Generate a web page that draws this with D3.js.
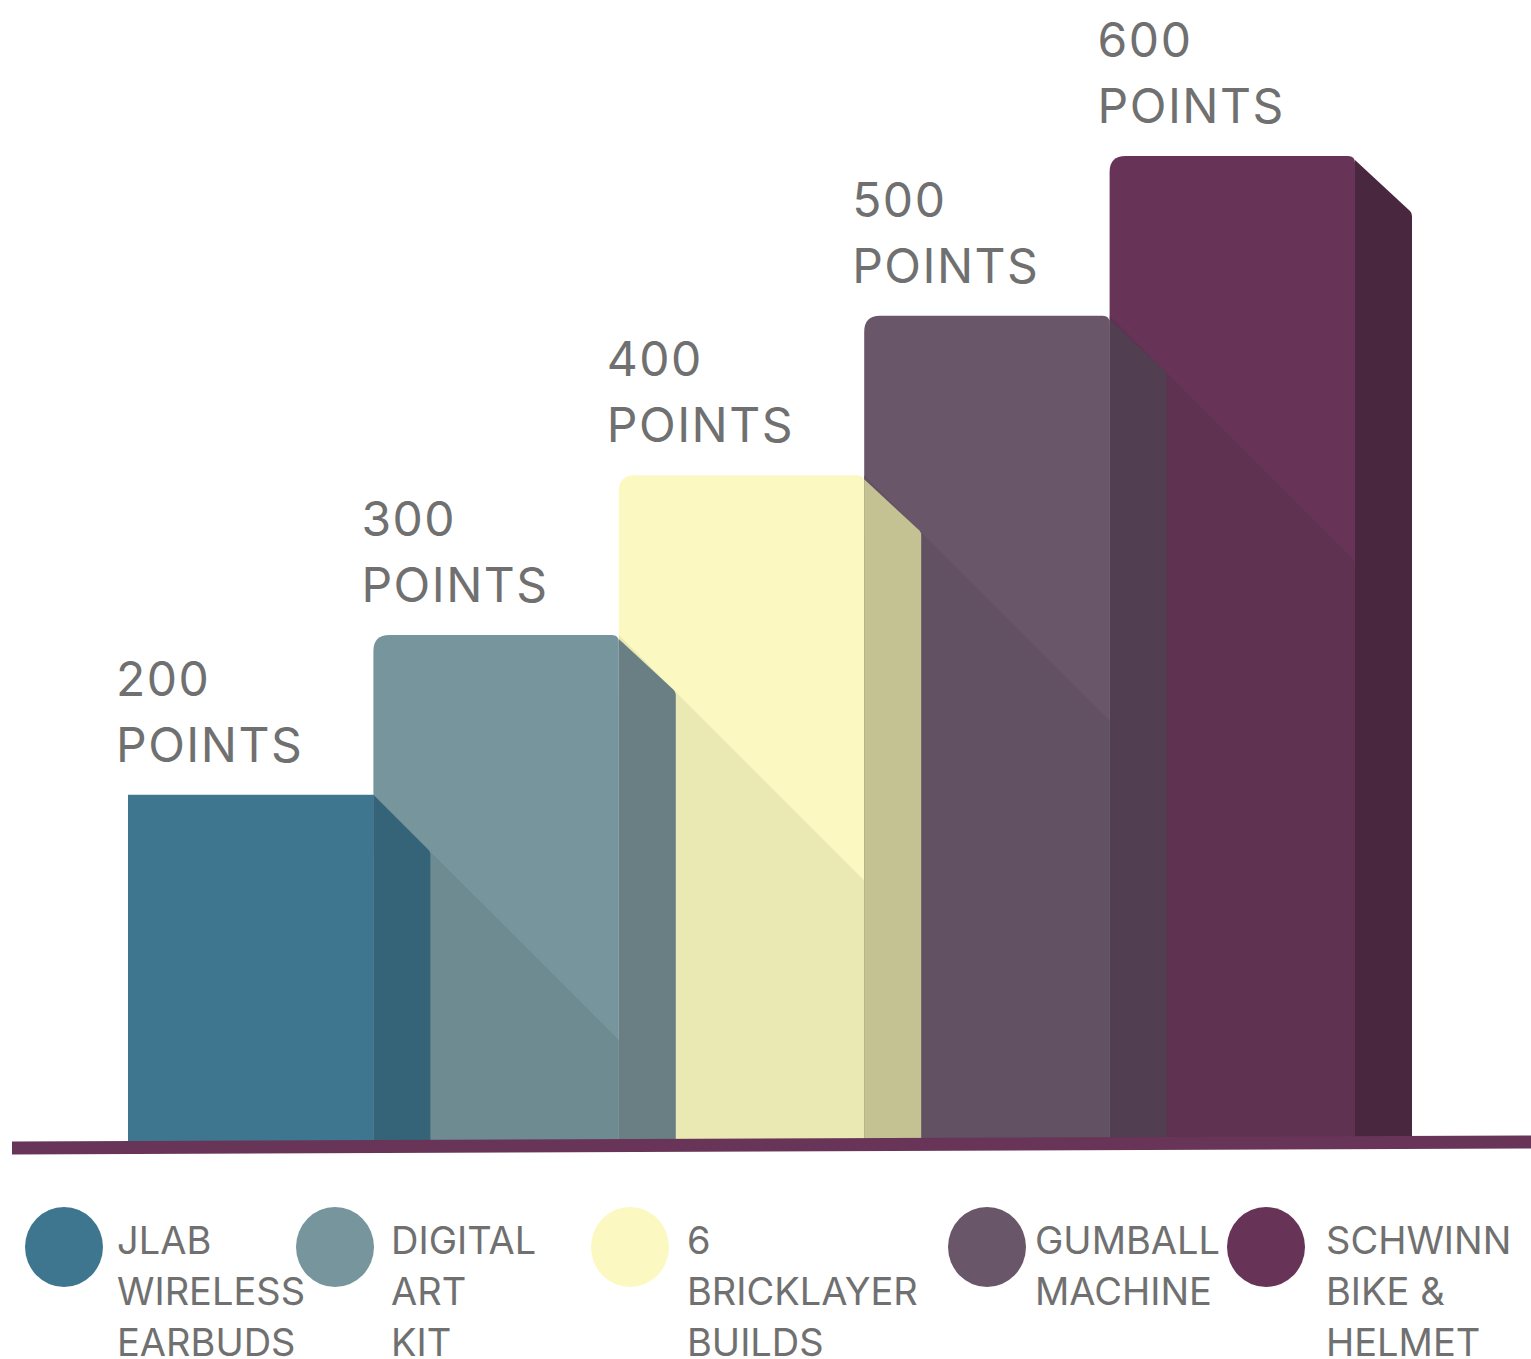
<!DOCTYPE html>
<html>
<head>
<meta charset="utf-8">
<script src="https://cdn.jsdelivr.net/npm/d3@7"></script>
<style>
  html, body { margin: 0; padding: 0; background: #fff; }
  svg { display: block; }
  .lbl { font-family: Inter, "Noto Sans", sans-serif; fill: #707070; }
</style>
</head>
<body>
<svg id="chart" width="1531" height="1359"></svg>
<script>
// data
var categories = ["JLAB WIRELESS EARBUDS", "DIGITAL ART KIT", "6 BRICKLAYER BUILDS", "GUMBALL MACHINE", "SCHWINN BIKE & HELMET"];
var legendLines = [["JLAB", "WIRELESS", "EARBUDS"], ["DIGITAL", "ART", "KIT"], ["6", "BRICKLAYER", "BUILDS"], ["GUMBALL", "MACHINE"], ["SCHWINN", "BIKE &", "HELMET"]];
var points = [200, 300, 400, 500, 600];
var valueLabels = ["200", "300", "400", "500", "600"];
var unitLabel = "POINTS";

var frontColors = ["#3e7690", "#77959c", "#fbf9c1", "#6a5669", "#673457"];
var shadowColors = ["#3e7690", "#6e8b92", "#ebe9b3", "#625163", "#5f3251"];
var sideColors = ["#356478", "#697f84", "#c4c192", "#513e51", "#48273f"];

var svg = d3.select("#chart"),
    width = 1531,
    height = 1359,
    base = 1142,
    depth = 57;

var x = d3.scaleBand()
    .domain(categories)
    .range([128, 1355])
    .paddingInner(0)
    .paddingOuter(0);

var y = d3.scaleLinear()
    .domain([0, 600])
    .range([1114, 156]);

var bw = x.bandwidth();

function frontPath(i) {
  var x0 = x(categories[i]), x1 = x0 + bw, t = y(points[i]);
  var r1 = i === 0 ? 0 : 16, r2 = i === 0 ? 0 : 7;
  var p = d3.path();
  p.moveTo(x0, base);
  p.lineTo(x0, t + r1);
  p.quadraticCurveTo(x0, t, x0 + r1, t);
  p.lineTo(x1 - r2, t);
  p.quadraticCurveTo(x1, t, x1, t + r2);
  p.lineTo(x1, base);
  p.closePath();
  return p.toString();
}

function sidePath(i) {
  var x1 = x(categories[i]) + bw, t = y(points[i]);
  var p = d3.path();
  p.moveTo(x1, t + (i === 0 ? 0 : 4));
  p.lineTo(x1 + depth - 2, t + depth - 2);
  p.quadraticCurveTo(x1 + depth, t + depth, x1 + depth, t + depth + 3);
  p.lineTo(x1 + depth, base);
  p.lineTo(x1, base);
  p.closePath();
  return p.toString();
}

// shadow cast by the previous bar onto the front face, 45 degrees
function shadowPath(i) {
  var px = x(categories[i - 1]) + bw, pt = y(points[i - 1]);
  var x0 = x(categories[i]), x1 = x0 + bw;
  var p = d3.path();
  p.moveTo(px, pt);
  p.lineTo(x1, pt + (x1 - px));
  p.lineTo(x1, base);
  p.lineTo(x0, base);
  p.lineTo(x0, pt);
  p.closePath();
  return p.toString();
}

var defs = svg.append("defs");

// draw from the right so each bar's side sits over the next bar
var order = d3.range(categories.length).reverse();
order.forEach(function (i) {
  var g = svg.append("g").attr("class", "bar");
  g.append("path")
    .attr("d", frontPath(i))
    .attr("fill", frontColors[i]);
  if (i > 0) {
    defs.append("clipPath")
      .attr("id", "clip" + i)
      .append("path")
      .attr("d", frontPath(i));
    g.append("path")
      .attr("d", shadowPath(i))
      .attr("clip-path", "url(#clip" + i + ")")
      .attr("fill", shadowColors[i]);
  }
  g.append("path")
    .attr("d", sidePath(i))
    .attr("fill", sideColors[i]);
});

// base line
svg.append("path")
  .attr("d", d3.line()([[12, base + 6], [1531, base]]))
  .attr("stroke", "#683558")
  .attr("stroke-width", 13)
  .attr("fill", "none");

// value labels
categories.forEach(function (c, i) {
  var t = y(points[i]);
  var lx = x(c) - 12;
  svg.append("text")
    .attr("class", "lbl")
    .attr("x", lx)
    .attr("y", t - 99)
    .attr("font-size", 48)
    .attr("letter-spacing", 1.5)
    .text(valueLabels[i]);
  svg.append("text")
    .attr("class", "lbl")
    .attr("x", lx)
    .attr("y", t - 33)
    .attr("font-size", 48)
    .attr("letter-spacing", 1.5)
    .text(unitLabel);
});

// legend
var legendDotX = [64, 335, 630, 987, 1266],
    legendTextX = [117, 391, 687, 1035, 1326];

categories.forEach(function (c, i) {
  svg.append("ellipse")
    .attr("cx", legendDotX[i])
    .attr("cy", 1247)
    .attr("rx", 39)
    .attr("ry", 40)
    .attr("fill", frontColors[i]);
  var txt = svg.append("text")
    .attr("class", "lbl")
    .attr("font-size", 38);
  legendLines[i].forEach(function (line, k) {
    txt.append("tspan")
      .attr("x", legendTextX[i])
      .attr("y", 1254 + k * 51)
      .text(line);
  });
});
</script>
</body>
</html>
